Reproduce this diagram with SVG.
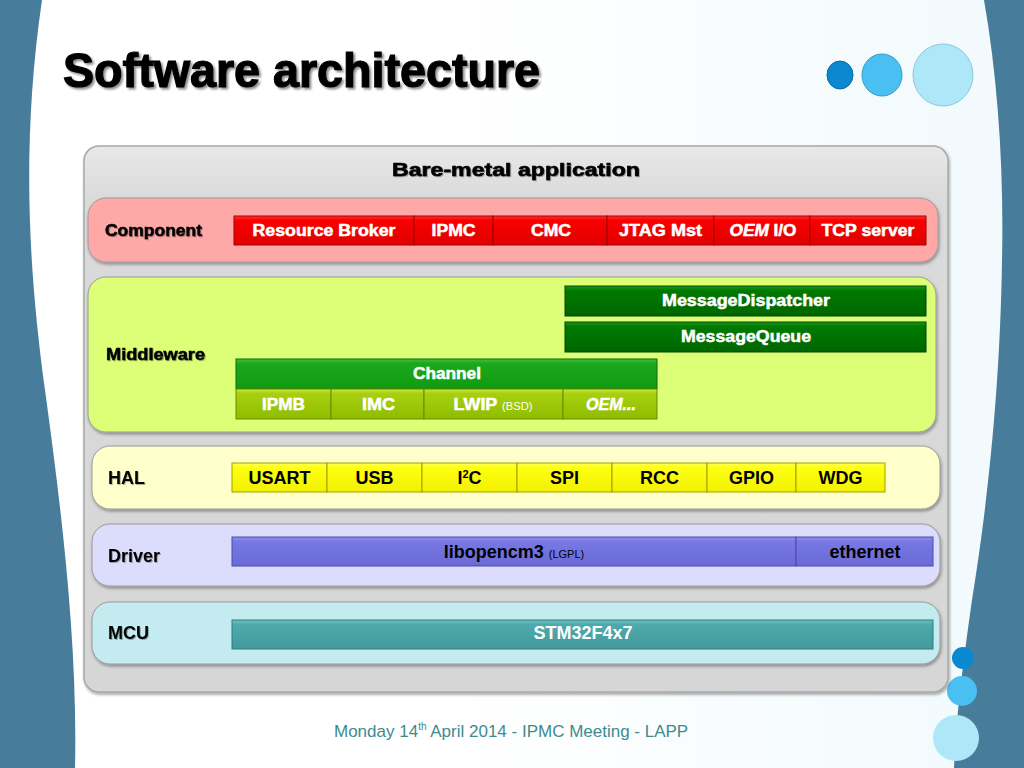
<svg xmlns="http://www.w3.org/2000/svg" width="1024" height="768" viewBox="0 0 1024 768">
<defs>
<style>
text{font-family:"Liberation Sans",Arial,sans-serif}
.lbl{font-size:16px;font-weight:bold;fill:#000;stroke:#000;stroke-width:0.5}
.lbl2{font-size:18px;font-weight:bold;fill:#000}
.bt{font-size:16px;font-weight:bold;text-anchor:middle;stroke-width:0.5}
.ht{font-size:18px;font-weight:bold;text-anchor:middle}
.w{fill:#fff;stroke:#fff}
.k{fill:#000;stroke:#000}
.hk{fill:#000}
.hw{fill:#fff}
.sm{font-size:10px;font-weight:normal;stroke-width:0}
.band{stroke:#9a9a9a;stroke-width:1;filter:url(#sh)}
.box{stroke-width:1}
</style>
<filter id="sh" x="-5%" y="-10%" width="110%" height="130%"><feDropShadow dx="1" dy="2" stdDeviation="1.5" flood-color="#000" flood-opacity="0.35"/></filter>
<filter id="tsh" x="-5%" y="-20%" width="110%" height="150%"><feDropShadow dx="2" dy="2" stdDeviation="1" flood-color="#000" flood-opacity="0.45"/></filter>
<filter id="lsh"><feDropShadow dx="1" dy="1" stdDeviation="0.5" flood-color="#000" flood-opacity="0.3"/></filter>
<linearGradient id="gray" x1="0" y1="0" x2="0" y2="1"><stop offset="0" stop-color="#e8e8e8"/><stop offset="0.1" stop-color="#dadada"/><stop offset="1" stop-color="#d6d6d6"/></linearGradient>
<linearGradient id="red" x1="0" y1="0" x2="0" y2="1"><stop offset="0" stop-color="#ff3030"/><stop offset="0.15" stop-color="#f80000"/><stop offset="1" stop-color="#e00000"/></linearGradient>
<linearGradient id="dg" x1="0" y1="0" x2="0" y2="1"><stop offset="0" stop-color="#1a9a1a"/><stop offset="0.15" stop-color="#007a00"/><stop offset="1" stop-color="#006600"/></linearGradient>
<linearGradient id="mg" x1="0" y1="0" x2="0" y2="1"><stop offset="0" stop-color="#40c040"/><stop offset="0.15" stop-color="#1ca81c"/><stop offset="1" stop-color="#0f9a0f"/></linearGradient>
<linearGradient id="yg" x1="0" y1="0" x2="0" y2="1"><stop offset="0" stop-color="#c8e840"/><stop offset="0.15" stop-color="#a8d010"/><stop offset="1" stop-color="#8fbc00"/></linearGradient>
<linearGradient id="ye" x1="0" y1="0" x2="0" y2="1"><stop offset="0" stop-color="#ffff60"/><stop offset="0.15" stop-color="#ffff10"/><stop offset="1" stop-color="#f0f000"/></linearGradient>
<linearGradient id="pu" x1="0" y1="0" x2="0" y2="1"><stop offset="0" stop-color="#9090f0"/><stop offset="0.15" stop-color="#7878e4"/><stop offset="1" stop-color="#6a6ad8"/></linearGradient>
<linearGradient id="te" x1="0" y1="0" x2="0" y2="1"><stop offset="0" stop-color="#70c4c6"/><stop offset="0.15" stop-color="#4eaaac"/><stop offset="1" stop-color="#43999c"/></linearGradient>
<linearGradient id="bg" x1="0" y1="0" x2="1" y2="0"><stop offset="0" stop-color="#ffffff"/><stop offset="0.45" stop-color="#ffffff"/><stop offset="1" stop-color="#f2fafd"/></linearGradient>
</defs>

<rect x="0" y="0" width="1024" height="768" fill="#477d9b"/>
<path d="M42,0 L984,0 C998,80 1004,170 1002,260 C1000,400 985,520 972,600 C962,670 956,720 954,768 L75,768 C78,640 60,500 45,390 C30,280 20,150 42,0 Z" fill="url(#bg)"/>

<g id="title">
<text x="63" y="87" font-size="48" font-weight="bold" fill="#000" stroke="#000" stroke-width="1.2" filter="url(#tsh)" textLength="477" lengthAdjust="spacingAndGlyphs">Software architecture</text>
</g>

<g id="deco">
<ellipse cx="840" cy="75" rx="13" ry="14" fill="#0a88d0" stroke="#0a6aa0" stroke-width="1"/>
<ellipse cx="882" cy="75" rx="20" ry="21" fill="#4ac0f2" stroke="#3a9ac8" stroke-width="1"/>
<ellipse cx="943" cy="75" rx="30" ry="31" fill="#aee8f8" stroke="#8cc8dc" stroke-width="1"/>
<ellipse cx="963" cy="658" rx="11" ry="11" fill="#0a88d0"/>
<ellipse cx="962" cy="691" rx="15" ry="15" fill="#4ac0f2"/>
<ellipse cx="956" cy="738" rx="23" ry="23" fill="#aee8f8"/>
</g>

<g id="app">
<rect x="84" y="146" width="864" height="546" rx="15" fill="url(#gray)" stroke="#a8a8a8" stroke-width="1.5" filter="url(#sh)"/>
<text x="516" y="176" font-size="18" font-weight="bold" text-anchor="middle" stroke="#000" stroke-width="0.6" filter="url(#lsh)" textLength="248" lengthAdjust="spacingAndGlyphs">Bare-metal application</text>
</g>

<g id="component">
<rect class="band" x="88" y="198" width="850" height="64" rx="18" fill="#ffa8a8"/>
<text class="lbl" x="105" y="236" filter="url(#lsh)" textLength="97" lengthAdjust="spacingAndGlyphs">Component</text>
<g stroke="#a00000">
<rect class="box" x="234" y="216" width="180" height="29" fill="url(#red)"/>
<rect class="box" x="414" y="216" width="79" height="29" fill="url(#red)"/>
<rect class="box" x="493" y="216" width="114" height="29" fill="url(#red)"/>
<rect class="box" x="607" y="216" width="107" height="29" fill="url(#red)"/>
<rect class="box" x="714" y="216" width="96" height="29" fill="url(#red)"/>
<rect class="box" x="810" y="216" width="116" height="29" fill="url(#red)"/>
</g>
<text class="bt w" x="324" y="236" textLength="143" lengthAdjust="spacingAndGlyphs">Resource Broker</text>
<text class="bt w" x="453.5" y="236" textLength="44" lengthAdjust="spacingAndGlyphs">IPMC</text>
<text class="bt w" x="551" y="236" textLength="40" lengthAdjust="spacingAndGlyphs">CMC</text>
<text class="bt w" x="660.5" y="236" textLength="83" lengthAdjust="spacingAndGlyphs">JTAG Mst</text>
<text class="bt w" x="763" y="236" textLength="67" lengthAdjust="spacingAndGlyphs"><tspan font-style="italic">OEM</tspan> I/O</text>
<text class="bt w" x="868" y="236" textLength="93" lengthAdjust="spacingAndGlyphs">TCP server</text>
</g>

<g id="middleware">
<rect class="band" x="88" y="277" width="848" height="155" rx="18" fill="#ddff77"/>
<text class="lbl" x="106" y="360" filter="url(#lsh)" textLength="99" lengthAdjust="spacingAndGlyphs">Middleware</text>
<rect class="box" x="565" y="286" width="361" height="30" fill="url(#dg)" stroke="#004400"/>
<text class="bt w" x="746" y="306" textLength="168" lengthAdjust="spacingAndGlyphs">MessageDispatcher</text>
<rect class="box" x="565" y="322" width="361" height="30" fill="url(#dg)" stroke="#004400"/>
<text class="bt w" x="746" y="342" textLength="130" lengthAdjust="spacingAndGlyphs">MessageQueue</text>
<rect class="box" x="236" y="359" width="421" height="30" fill="url(#mg)" stroke="#0a6a0a"/>
<text class="bt w" x="447" y="379" textLength="68" lengthAdjust="spacingAndGlyphs">Channel</text>
<g stroke="#6a8a00">
<rect class="box" x="236" y="389" width="95" height="30" fill="url(#yg)"/>
<rect class="box" x="331" y="389" width="93" height="30" fill="url(#yg)"/>
<rect class="box" x="424" y="389" width="139" height="30" fill="url(#yg)"/>
<rect class="box" x="563" y="389" width="94" height="30" fill="url(#yg)"/>
</g>
<text class="bt w" x="283.5" y="410" textLength="43" lengthAdjust="spacingAndGlyphs">IPMB</text>
<text class="bt w" x="378.5" y="410" textLength="33" lengthAdjust="spacingAndGlyphs">IMC</text>
<text class="bt w" x="493" y="410" textLength="79" lengthAdjust="spacingAndGlyphs">LWIP <tspan class="sm">(BSD)</tspan></text>
<text class="bt w" x="611" y="410" font-style="italic" textLength="50" lengthAdjust="spacingAndGlyphs">OEM...</text>
</g>

<g id="hal">
<rect class="band" x="92" y="446" width="848" height="63" rx="18" fill="#ffffcc"/>
<text class="lbl2" x="108" y="484" filter="url(#lsh)">HAL</text>
<g stroke="#a0a000">
<rect class="box" x="232" y="463" width="95" height="29" fill="url(#ye)"/>
<rect class="box" x="327" y="463" width="95" height="29" fill="url(#ye)"/>
<rect class="box" x="422" y="463" width="95" height="29" fill="url(#ye)"/>
<rect class="box" x="517" y="463" width="95" height="29" fill="url(#ye)"/>
<rect class="box" x="612" y="463" width="95" height="29" fill="url(#ye)"/>
<rect class="box" x="707" y="463" width="89" height="29" fill="url(#ye)"/>
<rect class="box" x="796" y="463" width="89" height="29" fill="url(#ye)"/>
</g>
<text class="ht hk" x="279.5" y="484">USART</text>
<text class="ht hk" x="374.5" y="484">USB</text>
<text class="ht hk" x="469.5" y="484">I<tspan font-size="11" dy="-6">2</tspan><tspan dy="6">C</tspan></text>
<text class="ht hk" x="564.5" y="484">SPI</text>
<text class="ht hk" x="659.5" y="484">RCC</text>
<text class="ht hk" x="751.5" y="484">GPIO</text>
<text class="ht hk" x="840.5" y="484">WDG</text>
</g>

<g id="driver">
<rect class="band" x="92" y="524" width="848" height="62" rx="18" fill="#dcdcfc"/>
<text class="lbl2" x="108" y="562" filter="url(#lsh)">Driver</text>
<g stroke="#4a4aa8">
<rect class="box" x="232" y="537" width="564" height="29" fill="url(#pu)"/>
<rect class="box" x="796" y="537" width="137" height="29" fill="url(#pu)"/>
</g>
<text class="ht hk" x="514" y="558">libopencm3 <tspan font-size="11" font-weight="normal">(LGPL)</tspan></text>
<text class="ht hk" x="865" y="558">ethernet</text>
</g>

<g id="mcu">
<rect class="band" x="92" y="602" width="848" height="62" rx="18" fill="#c4ecf0"/>
<text class="lbl2" x="108" y="639" filter="url(#lsh)">MCU</text>
<rect class="box" x="232" y="620" width="701" height="29" fill="url(#te)" stroke="#2e7a7c"/>
<text class="ht hw" x="583" y="639">STM32F4x7</text>
</g>

<g id="connectors"></g>

<g id="footer">
<text x="334" y="737" font-size="17" fill="#3d8c8e">Monday 14<tspan font-size="10" dy="-7">th</tspan><tspan dy="7"> April 2014 - IPMC Meeting - LAPP</tspan></text>
</g>
</svg>
